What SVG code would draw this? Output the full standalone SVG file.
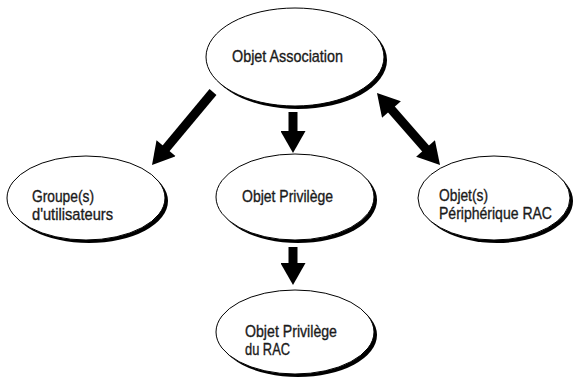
<svg xmlns="http://www.w3.org/2000/svg" width="574" height="379" viewBox="0 0 574 379">
<style>
.bg{fill:#ffffff}
.shadow{fill:#000000}
.node{fill:#ffffff;stroke:#000000;stroke-width:1}
.lbl{font-family:"Liberation Sans Narrow","Liberation Sans",Arial,sans-serif;font-size:17px;fill:#1a1a1a;stroke:#1a1a1a;stroke-width:0.35}
.conn{stroke:#000000;stroke-width:9;fill:none}
</style>
<defs>
<marker id="head" markerUnits="userSpaceOnUse" markerWidth="23" markerHeight="25" refX="8" refY="12.5" orient="auto-start-reverse" viewBox="0 0 22 25">
<path d="M0,0 L22,12.5 L0,25 z" fill="#000000"/>
</marker>
</defs>
<rect class="bg" x="0" y="0" width="574" height="379"/>
<g id="connectors">
<line class="conn" x1="213" y1="92" x2="161" y2="154.3" marker-end="url(#head)"/>
<line class="conn" x1="293" y1="112" x2="293" y2="139" marker-end="url(#head)"/>
<line class="conn" x1="293" y1="247" x2="293" y2="271" marker-end="url(#head)"/>
<line class="conn" x1="386.2" y1="103.5" x2="430.8" y2="154.5" marker-start="url(#head)" marker-end="url(#head)"/>
</g>
<g id="node-association">
<ellipse class="shadow" cx="298" cy="60" rx="89" ry="49"/>
<ellipse class="node" cx="295" cy="57" rx="89" ry="49"/>
<text class="lbl" x="232" y="62" textLength="111" lengthAdjust="spacingAndGlyphs">Objet Association</text>
</g>
<g id="node-groupes">
<ellipse class="shadow" cx="89" cy="201" rx="79" ry="42"/>
<ellipse class="node" cx="86" cy="198" rx="79" ry="42"/>
<text class="lbl" x="32" y="202" textLength="62" lengthAdjust="spacingAndGlyphs">Groupe(s)</text>
<text class="lbl" x="32" y="220" textLength="81" lengthAdjust="spacingAndGlyphs">d'utilisateurs</text>
</g>
<g id="node-privilege">
<ellipse class="shadow" cx="298" cy="200" rx="79" ry="43"/>
<ellipse class="node" cx="295" cy="197" rx="79" ry="43"/>
<text class="lbl" x="242" y="202" textLength="91" lengthAdjust="spacingAndGlyphs">Objet Privilège</text>
</g>
<g id="node-peripherique">
<ellipse class="shadow" cx="497" cy="201" rx="76" ry="42"/>
<ellipse class="node" cx="494" cy="198" rx="76" ry="42"/>
<text class="lbl" x="439" y="201" textLength="49" lengthAdjust="spacingAndGlyphs">Objet(s)</text>
<text class="lbl" x="439" y="219" textLength="113" lengthAdjust="spacingAndGlyphs">Périphérique RAC</text>
</g>
<g id="node-privilege-rac">
<ellipse class="shadow" cx="298" cy="335" rx="79" ry="42"/>
<ellipse class="node" cx="295" cy="332" rx="79" ry="42"/>
<text class="lbl" x="245" y="337" textLength="92" lengthAdjust="spacingAndGlyphs">Objet Privilège</text>
<text class="lbl" x="245" y="355" textLength="45" lengthAdjust="spacingAndGlyphs">du RAC</text>
</g>
</svg>
